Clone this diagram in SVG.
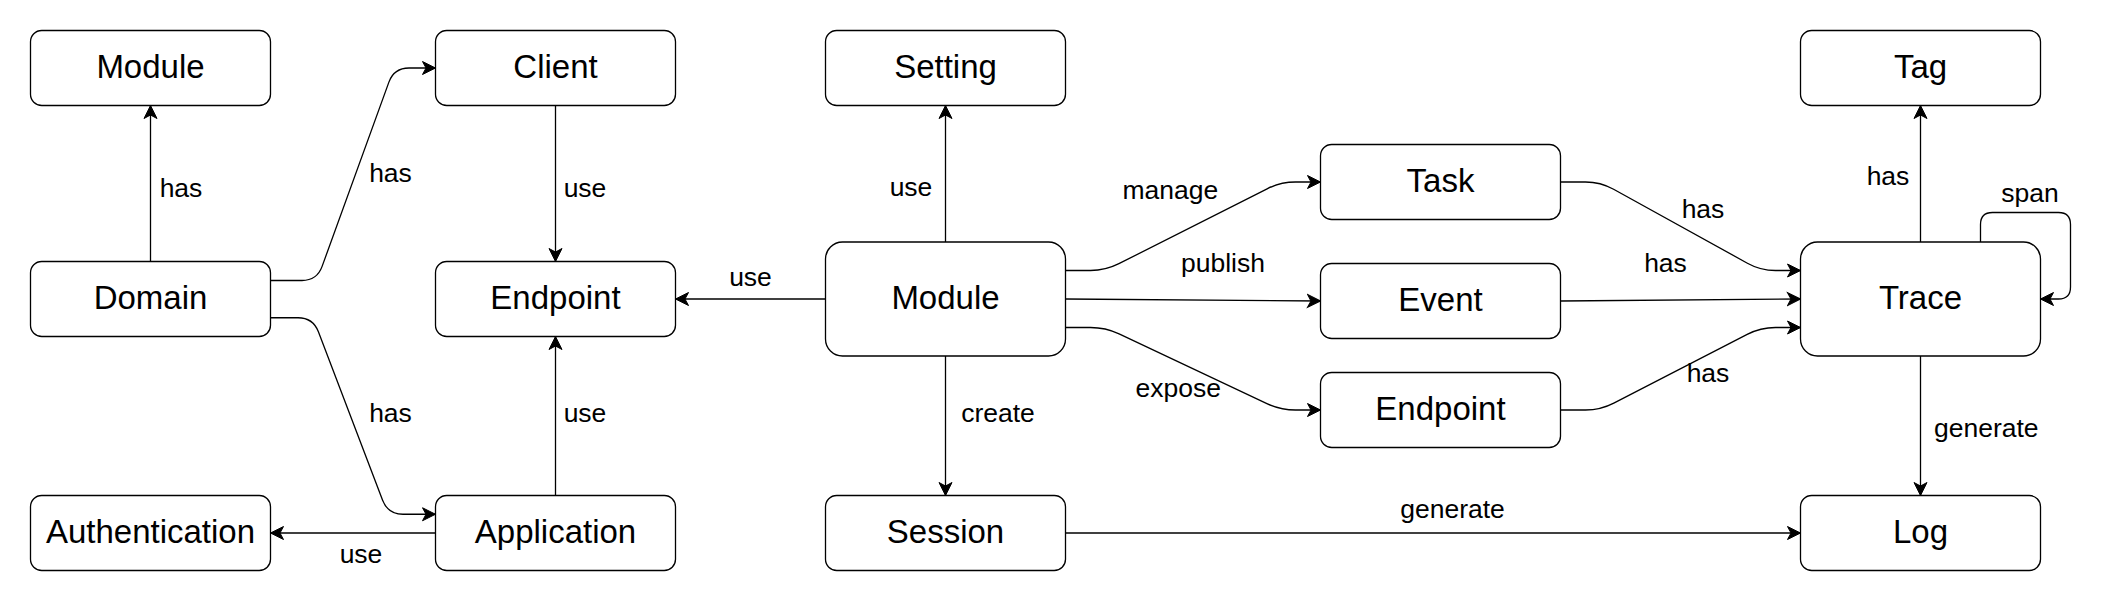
<svg xmlns="http://www.w3.org/2000/svg" width="2115" height="609" viewBox="0 0 2115 609">
<style>
.box{fill:#fff;stroke:#000;stroke-width:1.3}
.nt{font-family:"Liberation Sans",Arial,sans-serif;font-size:33px;fill:#000;text-anchor:middle}
.e{fill:none;stroke:#000;stroke-width:1.3}
.lb{font-family:"Liberation Sans",Arial,sans-serif;font-size:26.5px;fill:#000;text-anchor:middle}
</style>
<defs>
<marker id="arr" markerUnits="userSpaceOnUse" markerWidth="16" markerHeight="16" viewBox="-14 -8 16 16" refX="0" refY="0" orient="auto">
<path d="M0,0 L-13,-6.5 L-9.5,0 L-13,6.5 Z" fill="#000" stroke="#000" stroke-width="1"/>
</marker>
</defs>
<rect width="2115" height="609" fill="#fff"/>
<g id="connectors">
<path class="e" marker-end="url(#arr)" d="M150.5,261.5 L150.5,105.5"/>
<path class="e" marker-end="url(#arr)" d="M270.5,280.5 L302,280.5 Q317,280.5 322.1,266.4 L388.9,82.1 Q394,68 409,68 L435.5,68"/>
<path class="e" marker-end="url(#arr)" d="M270.5,317.75 L298,317.75 Q313,317.75 318.4,331.8 L382.6,500.2 Q388,514.25 403,514.25 L435.5,514.25"/>
<path class="e" marker-end="url(#arr)" d="M555.5,105.5 L555.5,261.5"/>
<path class="e" marker-end="url(#arr)" d="M555.5,495.5 L555.5,336.5"/>
<path class="e" marker-end="url(#arr)" d="M435.5,533 L270.5,533"/>
<path class="e" marker-end="url(#arr)" d="M825.5,299 L675.5,299"/>
<path class="e" marker-end="url(#arr)" d="M945.5,242 L945.5,105.5"/>
<path class="e" marker-end="url(#arr)" d="M945.5,356 L945.5,495.5"/>
<path class="e" marker-end="url(#arr)" d="M1065.5,270.5 L1090.5,270.5 Q1105.5,270.5 1118.9,263.7 L1267.1,188.8 Q1280.5,182 1295.5,182 L1320.5,182"/>
<path class="e" marker-end="url(#arr)" d="M1065.5,299 L1320.5,301"/>
<path class="e" marker-end="url(#arr)" d="M1065.5,327.5 L1090.5,327.5 Q1105.5,327.5 1119.1,333.9 L1266.9,403.6 Q1280.5,410 1295.5,410 L1320.5,410"/>
<path class="e" marker-end="url(#arr)" d="M1560.5,182 L1585.5,182 Q1600.5,182 1613.6,189.3 L1747.4,263.2 Q1760.5,270.5 1775.5,270.5 L1800.5,270.5"/>
<path class="e" marker-end="url(#arr)" d="M1560.5,301 L1800.5,299"/>
<path class="e" marker-end="url(#arr)" d="M1560.5,410 L1585.5,410 Q1600.5,410 1613.8,403.1 L1747.2,334.4 Q1760.5,327.5 1775.5,327.5 L1800.5,327.5"/>
<path class="e" marker-end="url(#arr)" d="M1920.5,242 L1920.5,105.5"/>
<path class="e" marker-end="url(#arr)" d="M1920.5,356 L1920.5,495.5"/>
<path class="e" marker-end="url(#arr)" d="M1980.5,242 L1980.5,224.5 Q1980.5,212.5 1992.5,212.5 L2058.5,212.5 Q2070.5,212.5 2070.5,224.5 L2070.5,287 Q2070.5,299 2058.5,299 L2040.5,299"/>
<path class="e" marker-end="url(#arr)" d="M1065.5,533 L1800.5,533"/>
</g>
<g id="edge-labels">
<text class="lb" x="181" y="196.7">has</text>
<text class="lb" x="390.5" y="181.7">has</text>
<text class="lb" x="390.5" y="421.7">has</text>
<text class="lb" x="585" y="196.7">use</text>
<text class="lb" x="585" y="421.7">use</text>
<text class="lb" x="361" y="563.3">use</text>
<text class="lb" x="750.5" y="286">use</text>
<text class="lb" x="911" y="196">use</text>
<text class="lb" x="998" y="421.7">create</text>
<text class="lb" x="1170.4" y="199.3">manage</text>
<text class="lb" x="1223" y="271.7">publish</text>
<text class="lb" x="1178.3" y="396.7">expose</text>
<text class="lb" x="1703" y="218.3">has</text>
<text class="lb" x="1665.5" y="271.7">has</text>
<text class="lb" x="1708" y="382">has</text>
<text class="lb" x="1888" y="185">has</text>
<text class="lb" x="2030" y="201.7">span</text>
<text class="lb" x="1452.5" y="517.7">generate</text>
<text class="lb" x="1986.3" y="436.7">generate</text>
</g>
<g id="node-module-top"><rect class="box" x="30.5" y="30.5" width="240" height="75" rx="11.25"/><text class="nt" x="150.5" y="78">Module</text></g>
<g id="node-domain"><rect class="box" x="30.5" y="261.5" width="240" height="75" rx="11.25"/><text class="nt" x="150.5" y="309">Domain</text></g>
<g id="node-authentication"><rect class="box" x="30.5" y="495.5" width="240" height="75" rx="11.25"/><text class="nt" x="150.5" y="543">Authentication</text></g>
<g id="node-client"><rect class="box" x="435.5" y="30.5" width="240" height="75" rx="11.25"/><text class="nt" x="555.5" y="78">Client</text></g>
<g id="node-endpoint-left"><rect class="box" x="435.5" y="261.5" width="240" height="75" rx="11.25"/><text class="nt" x="555.5" y="309">Endpoint</text></g>
<g id="node-application"><rect class="box" x="435.5" y="495.5" width="240" height="75" rx="11.25"/><text class="nt" x="555.5" y="543">Application</text></g>
<g id="node-setting"><rect class="box" x="825.5" y="30.5" width="240" height="75" rx="11.25"/><text class="nt" x="945.5" y="78">Setting</text></g>
<g id="node-module"><rect class="box" x="825.5" y="242" width="240" height="114" rx="17"/><text class="nt" x="945.5" y="309">Module</text></g>
<g id="node-session"><rect class="box" x="825.5" y="495.5" width="240" height="75" rx="11.25"/><text class="nt" x="945.5" y="543">Session</text></g>
<g id="node-task"><rect class="box" x="1320.5" y="144.5" width="240" height="75" rx="11.25"/><text class="nt" x="1440.5" y="192">Task</text></g>
<g id="node-event"><rect class="box" x="1320.5" y="263.5" width="240" height="75" rx="11.25"/><text class="nt" x="1440.5" y="311">Event</text></g>
<g id="node-endpoint-right"><rect class="box" x="1320.5" y="372.5" width="240" height="75" rx="11.25"/><text class="nt" x="1440.5" y="420">Endpoint</text></g>
<g id="node-tag"><rect class="box" x="1800.5" y="30.5" width="240" height="75" rx="11.25"/><text class="nt" x="1920.5" y="78">Tag</text></g>
<g id="node-trace"><rect class="box" x="1800.5" y="242" width="240" height="114" rx="17"/><text class="nt" x="1920.5" y="309">Trace</text></g>
<g id="node-log"><rect class="box" x="1800.5" y="495.5" width="240" height="75" rx="11.25"/><text class="nt" x="1920.5" y="543">Log</text></g>
</svg>
